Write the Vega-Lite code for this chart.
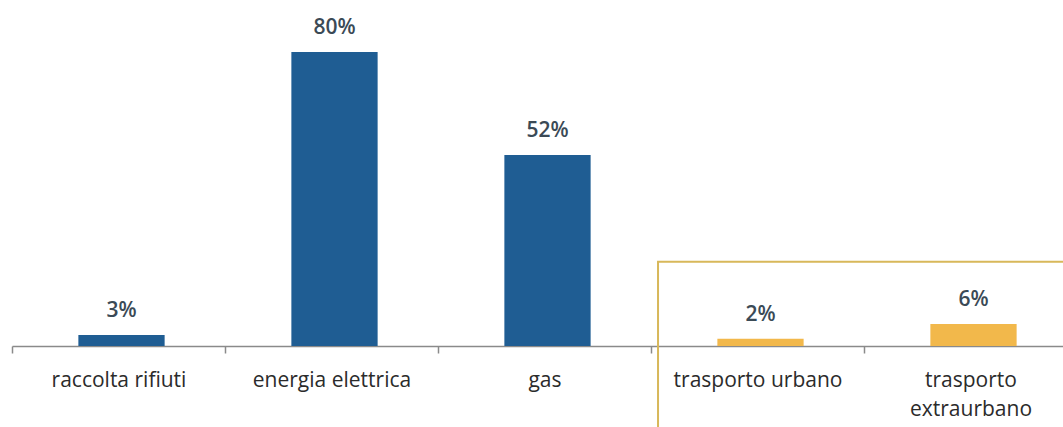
{
  "$schema": "https://vega.github.io/schema/vega-lite/v6.json",
  "width": 1063,
  "height": 346,
  "padding": {"left": 0, "top": 0, "right": 0, "bottom": 81},
  "autosize": {"type": "none"},
  "background": "white",
  "config": {"view": {"stroke": null}},
  "datasets": {
    "bars": [
      {"categoria": "raccolta rifiuti", "valore": 3, "etichetta": "3%", "gruppo": "servizi"},
      {"categoria": "energia elettrica", "valore": 80, "etichetta": "80%", "gruppo": "servizi"},
      {"categoria": "gas", "valore": 52, "etichetta": "52%", "gruppo": "servizi"},
      {"categoria": "trasporto urbano", "valore": 2, "etichetta": "2%", "gruppo": "trasporto"},
      {"categoria": "trasporto extraurbano", "valore": 6, "etichetta": "6%", "gruppo": "trasporto"}
    ],
    "box": [
      {"da": "trasporto urbano", "a": "trasporto extraurbano", "basso": -30, "alto": 22.9}
    ]
  },
  "layer": [
    {
      "data": {"name": "bars"},
      "mark": {"type": "bar", "width": {"band": 0.405}, "xOffset": 3},
      "encoding": {
        "x": {
          "field": "categoria", "type": "nominal", "title": null,
          "scale": {
            "domain": ["raccolta rifiuti", "energia elettrica", "gas", "trasporto urbano", "trasporto extraurbano"],
            "range": [12, 1077], "paddingInner": 0, "paddingOuter": 0
          },
          "axis": {
            "labelAngle": 0, "labelFont": "Open Sans", "labelFontSize": 21, "labelColor": "#2b2b2b",
            "labelPadding": 16, "labelLineHeight": 29, "labelLimit": 300,
            "labelExpr": "datum.label == 'trasporto extraurbano' ? ['trasporto', 'extraurbano'] : datum.label",
            "domainColor": "#8a8a8a", "domainWidth": 1.5, "tickColor": "#8a8a8a", "tickWidth": 1.5,
            "tickSize": 7, "tickBand": "extent", "grid": false
          }
        },
        "y": {
          "field": "valore", "type": "quantitative",
          "scale": {"domain": [0, 94.15], "nice": false, "zero": true},
          "axis": null
        },
        "color": {
          "field": "gruppo", "type": "nominal", "legend": null,
          "scale": {"domain": ["servizi", "trasporto"], "range": ["#1f5d93", "#f2b84b"]}
        }
      }
    },
    {
      "data": {"name": "bars"},
      "mark": {"type": "text", "baseline": "alphabetic", "dy": -18, "xOffset": 3, "font": "Open Sans", "fontSize": 21, "fontWeight": 600, "color": "#3b4a56"},
      "encoding": {
        "x": {"field": "categoria", "type": "nominal"},
        "y": {"field": "valore", "type": "quantitative"},
        "text": {"field": "etichetta"}
      }
    },
    {
      "data": {"name": "box"},
      "mark": {"type": "rect", "fill": null, "stroke": "#d8b85a", "strokeWidth": 2},
      "encoding": {
        "x": {"field": "da", "type": "nominal", "bandPosition": 0.033},
        "x2": {"field": "a", "bandPosition": 1},
        "y": {"field": "basso", "type": "quantitative"},
        "y2": {"field": "alto"}
      }
    }
  ]
}
